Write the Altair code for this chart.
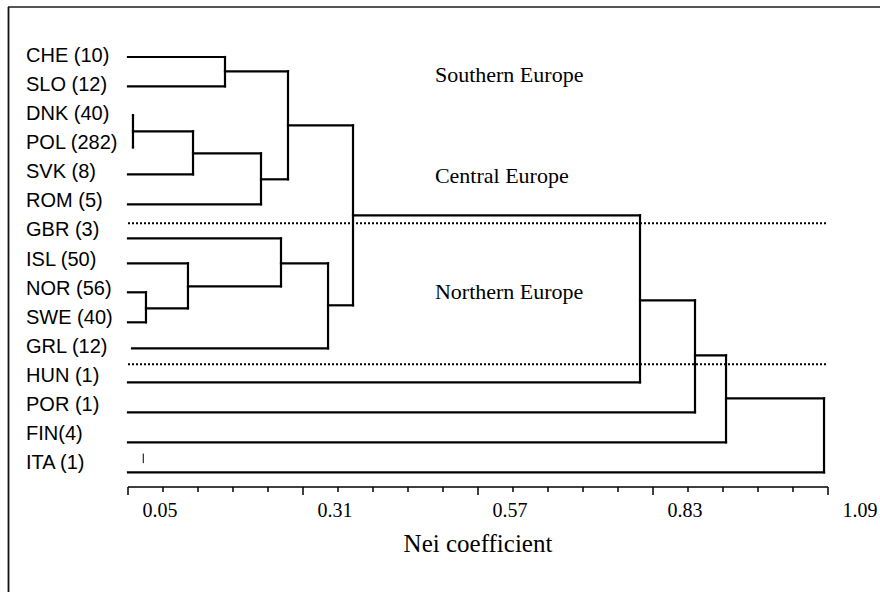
import altair as alt
import pandas as pd

# ---------------- data ----------------
leaf_ids = ["CHE", "SLO", "DNK", "POL", "SVK", "ROM", "GBR", "ISL",
            "NOR", "SWE", "GRL", "HUN", "POR", "FIN", "ITA"]
leaf_labels = ["CHE (10)", "SLO (12)", "DNK (40)", "POL (282)", "SVK (8)",
               "ROM (5)", "GBR (3)", "ISL (50)", "NOR (56)", "SWE (40)",
               "GRL (12)", "HUN (1)", "POR (1)", "FIN(4)", "ITA (1)"]
label_rows = [0, 1, 2, 3, 4, 5, 6, 7, 8, 9, 10, 11, 12, 13, 14]
leaf_line_rows = [0.069, 1.077, 2.074, 3.175, 4.106, 5.136, 6.306, 7.165,
                  8.163, 9.195, 10.090, 11.259, 12.291, 13.323, 14.355]
leaf_start = [0.0, 0.0, 0.0074, 0.0074, 0.0, 0.0, 0.0, 0.0,
              0.0, 0.0, 0.006, 0.0, 0.0, 0.0, 0.0]

# merges: id, Nei distance, the two joined clusters, row of the outgoing branch
node_ids = ["n1", "n2", "n3", "n4", "n5", "n6", "n7", "n8", "n9", "n10",
            "n11", "n12", "n13", "n14"]
node_height = [0.0074, 0.0267, 0.0891, 0.0966, 0.1441, 0.1976, 0.2273,
               0.2377, 0.2972, 0.3343, 0.7607, 0.8424, 0.8885, 1.0341]
node_a = ["DNK", "NOR", "ISL", "n1", "CHE", "n4", "GBR", "n5", "n7", "n8",
          "n10", "n11", "n12", "n13"]
node_b = ["POL", "SWE", "n2", "SVK", "SLO", "ROM", "n3", "n6", "GRL", "n9",
          "HUN", "POR", "FIN", "ITA"]
node_row = [2.625, 8.713, 7.957, 3.381, 0.561, 4.276, 7.165, 2.418, 8.610,
            5.514, 8.438, 10.33, 11.81, 12.9]

region_names = ["Southern Europe", "Central Europe", "Northern Europe"]
region_rows = [0.93, 4.42, 8.41]
region_x = [0.456, 0.456, 0.456]

boundary_rows = [5.79, 10.64]
boundary_x0 = 0.0
boundary_x1 = 1.037

axis_start = 0.0
axis_end = 1.04
minor_ticks = [0.052, 0.104, 0.156, 0.208, 0.312, 0.364, 0.416, 0.468,
               0.572, 0.624, 0.676, 0.728, 0.832, 0.884, 0.936, 0.988]
major_ticks = [0.0, 0.26, 0.52, 0.78, 1.04]
tick_label_values = [0.052, 0.312, 0.572, 0.832, 1.092]
tick_label_texts = ["0.05", "0.31", "0.57", "0.83", "1.09"]
axis_title = "Nei coefficient"

stray_mark = {"x": 0.0227, "y": 13.71, "y2": 14.04}

# ---------------- build segments from the tree ----------------
pos_x = {}
pos_y = {}
for i, lid in enumerate(leaf_ids):
    pos_x[lid] = leaf_start[i]
    pos_y[lid] = leaf_line_rows[i]

segs = []
for i, nid in enumerate(node_ids):
    h = node_height[i]
    a, b = node_a[i], node_b[i]
    for c in (a, b):
        segs.append({"x": pos_x[c], "x2": h, "y": pos_y[c], "y2": pos_y[c]})
    segs.append({"x": h, "x2": h, "y": pos_y[a], "y2": pos_y[b]})
    pos_x[nid] = h
    pos_y[nid] = node_row[i]
seg_df = pd.DataFrame(segs)

xs = alt.Scale(domain=[0, 1.04], nice=False, zero=False)
ys = alt.Scale(domain=[0, 14], reverse=True, nice=False, zero=False)

AXIS_Y = 432  # pixel offset of the axis line below the plot top

tree = alt.Chart(seg_df).mark_rule(
    color="black", strokeWidth=2.2, strokeCap="square"
).encode(
    x=alt.X("x:Q", scale=xs, axis=None),
    x2="x2:Q",
    y=alt.Y("y:Q", scale=ys, axis=None),
    y2="y2:Q",
)

stray = alt.Chart(pd.DataFrame([stray_mark])).mark_rule(
    color="black", strokeWidth=1
).encode(
    x=alt.X("x:Q", scale=xs, axis=None),
    y=alt.Y("y:Q", scale=ys, axis=None),
    y2="y2:Q",
)

bound_df = pd.DataFrame({"y": boundary_rows,
                         "x": [boundary_x0] * len(boundary_rows),
                         "x2": [boundary_x1] * len(boundary_rows)})
bounds = alt.Chart(bound_df).mark_rule(
    color="black", strokeWidth=2, strokeDash=[2, 2]
).encode(
    x=alt.X("x:Q", scale=xs, axis=None),
    x2="x2:Q",
    y=alt.Y("y:Q", scale=ys, axis=None),
)

axis_line = alt.Chart(pd.DataFrame({"a": [axis_start], "b": [axis_end]})).mark_rule(
    color="black", strokeWidth=1.5
).encode(
    x=alt.X("a:Q", scale=xs, axis=None),
    x2="b:Q",
    y=alt.value(AXIS_Y),
)

minor = alt.Chart(pd.DataFrame({"v": minor_ticks})).mark_rule(
    color="black", strokeWidth=1.5
).encode(
    x=alt.X("v:Q", scale=xs, axis=None),
    y=alt.value(AXIS_Y),
    y2=alt.value(AXIS_Y + 5),
)

major = alt.Chart(pd.DataFrame({"v": major_ticks})).mark_rule(
    color="black", strokeWidth=1.5
).encode(
    x=alt.X("v:Q", scale=xs, axis=None),
    y=alt.value(AXIS_Y),
    y2=alt.value(AXIS_Y + 8),
)

lab_df = pd.DataFrame({"label": leaf_labels, "row": label_rows})
labels = alt.Chart(lab_df).mark_text(
    align="left", baseline="alphabetic", font="Liberation Sans",
    fontSize=20, dy=7, color="black"
).encode(
    x=alt.value(-102),
    y=alt.Y("row:Q", scale=ys, axis=None),
    text="label:N",
)

reg_df = pd.DataFrame({"name": region_names, "row": region_rows, "x": region_x})
regions = alt.Chart(reg_df).mark_text(
    align="left", baseline="alphabetic", font="Liberation Serif",
    fontSize=22, color="black"
).encode(
    x=alt.X("x:Q", scale=xs, axis=None),
    y=alt.Y("row:Q", scale=ys, axis=None),
    text="name:N",
)

tl_df = pd.DataFrame({"v": tick_label_values, "t": tick_label_texts})
tick_labels = alt.Chart(tl_df).mark_text(
    align="center", baseline="alphabetic", font="Liberation Serif",
    fontSize=20, dx=-3, color="black"
).encode(
    x=alt.X("v:Q", scale=xs, axis=None),
    y=alt.value(461.5),
    text="t:N",
)

title = alt.Chart(pd.DataFrame({"t": [axis_title]})).mark_text(
    align="center", baseline="alphabetic", font="Liberation Serif",
    fontSize=25, color="black"
).encode(
    x=alt.value(350),
    y=alt.value(497),
    text="t:N",
)

one = pd.DataFrame({"k": [0]})
frame_top = alt.Chart(one).mark_rule(color="#555555", strokeWidth=2).encode(
    x=alt.value(-120), x2=alt.value(760), y=alt.value(-48))
frame_left = alt.Chart(one).mark_rule(color="#111111", strokeWidth=1.8).encode(
    x=alt.value(-119.5), y=alt.value(-48), y2=alt.value(545))

chart = alt.layer(
    frame_top, frame_left, bounds, tree, stray, axis_line, minor, major,
    labels, regions, tick_labels, title
).properties(
    width=700, height=407,
    autosize=alt.AutoSizeParams(type="none"),
    padding={"left": 128, "top": 55, "right": 52, "bottom": 130},
    background="white",
).configure_view(stroke=None)

chart.save("out.html", embed_options={"renderer": "svg", "actions": False})
